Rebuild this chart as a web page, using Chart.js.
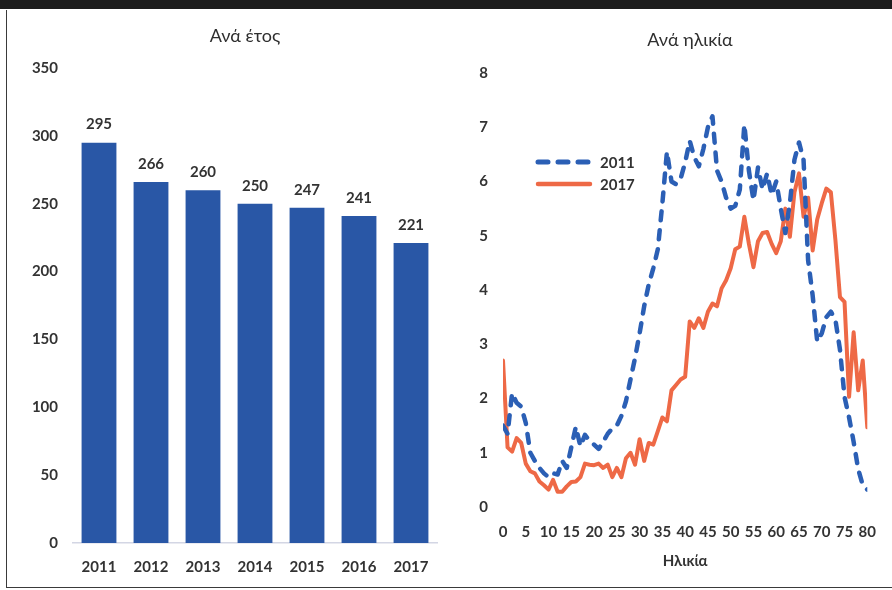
<!DOCTYPE html>
<html lang="el">
<head>
<meta charset="utf-8">
<title>Ανά έτος / Ανά ηλικία</title>
<script src="https://cdn.jsdelivr.net/npm/chart.js@4.4.1/dist/chart.umd.min.js"></script>
<style>
  html, body { margin: 0; padding: 0; background: #ffffff; }
  body { width: 892px; height: 590px; position: relative; overflow: hidden;
         font-family: Lato, "Noto Sans", sans-serif; }
  #topbar { position: absolute; left: 0; top: 0; width: 892px; height: 9px; background: #1c1c1c; }
  #frame { position: absolute; left: 6px; top: 10px; width: 920px; height: 577px;
           border-left: 1.5px solid #3a3a3a; border-bottom: 1.5px solid #3a3a3a; }
  .ptitle { position: absolute; font-size: 18px; line-height: 20px; color: #2f2f2f;
            white-space: nowrap; transform: translateX(-50%); }
  #yearChart { position: absolute; left: 0; top: 0; }
  #ageChart { position: absolute; left: 445px; top: 0; }
</style>
</head>
<body>
<div id="topbar"></div>
<div id="frame"></div>
<canvas id="yearChart" width="445" height="590"></canvas>
<canvas id="ageChart" width="447" height="590"></canvas>
<div class="ptitle" style="left:245px; top:25px;">Ανά έτος</div>
<div class="ptitle" style="left:690px; top:29px;">Ανά ηλικία</div>

<script>
// Yearly totals
const years = ['2011', '2012', '2013', '2014', '2015', '2016', '2017'];
const totals = [295, 266, 260, 250, 247, 241, 221];

// Distribution by age (ages 0–80)
const ages = [
   0,  1,  2,  3,  4,  5,  6,  7,  8,  9,
  10, 11, 12, 13, 14, 15, 16, 17, 18, 19,
  20, 21, 22, 23, 24, 25, 26, 27, 28, 29,
  30, 31, 32, 33, 34, 35, 36, 37, 38, 39,
  40, 41, 42, 43, 44, 45, 46, 47, 48, 49,
  50, 51, 52, 53, 54, 55, 56, 57, 58, 59,
  60, 61, 62, 63, 64, 65, 66, 67, 68, 69,
  70, 71, 72, 73, 74, 75, 76, 77, 78, 79,
  80
];
const series2011 = [
  1.50, 1.35, 2.10, 1.92, 1.85, 1.55, 1.00, 0.85, 0.72, 0.62,
  0.55, 0.62, 0.60, 0.85, 0.72, 1.10, 1.48, 1.12, 1.33, 1.22,
  1.15, 1.07, 1.20, 1.35, 1.45, 1.50, 1.68, 1.95, 2.35, 2.75,
  3.20, 3.70, 4.10, 4.40, 4.75, 5.60, 6.55, 6.00, 5.95, 6.05,
  6.35, 6.75, 6.45, 6.28, 6.60, 7.00, 7.20, 6.20, 6.00, 5.70,
  5.50, 5.55, 5.85, 7.05, 6.20, 5.65, 6.26, 5.85, 6.15, 5.75,
  6.00, 5.50, 5.05, 5.60, 6.40, 6.72, 6.40, 4.55, 3.90, 3.05,
  3.20, 3.50, 3.60, 3.45, 2.90, 2.03, 1.65, 1.20, 0.70, 0.40,
  0.32
];
const series2017 = [
  2.70, 1.10, 1.02, 1.27, 1.18, 0.80, 0.66, 0.62, 0.47, 0.40,
  0.32, 0.50, 0.28, 0.28, 0.38, 0.46, 0.47, 0.55, 0.80, 0.78,
  0.77, 0.80, 0.72, 0.78, 0.55, 0.72, 0.55, 0.90, 1.00, 0.78,
  1.25, 0.85, 1.18, 1.15, 1.40, 1.65, 1.58, 2.15, 2.25, 2.35,
  2.40, 3.42, 3.30, 3.48, 3.30, 3.60, 3.75, 3.70, 4.03, 4.18,
  4.40, 4.75, 4.80, 5.35, 4.85, 4.42, 4.90, 5.05, 5.07, 4.85,
  4.68, 4.90, 5.50, 4.98, 5.80, 6.15, 5.35, 5.70, 4.73, 5.30,
  5.60, 5.87, 5.80, 4.92, 3.87, 3.78, 2.03, 3.22, 2.15, 2.70,
  1.47
];

const FONT_FAMILY = 'Lato, "Noto Sans", sans-serif';
const TEXT_COLOR = '#333333';
const boldFont = { family: FONT_FAMILY, size: 15, weight: 'bold' };

// Value printed above every bar, taken from the bar's own data point
const barValueLabels = {
  id: 'barValueLabels',
  afterDatasetsDraw(chart) {
    const { ctx } = chart;
    const meta = chart.getDatasetMeta(0);
    const values = chart.data.datasets[0].data;
    ctx.save();
    ctx.font = 'bold 15px ' + FONT_FAMILY;
    ctx.fillStyle = TEXT_COLOR;
    ctx.textAlign = 'center';
    ctx.textBaseline = 'middle';
    meta.data.forEach((bar, i) => {
      ctx.fillText(String(values[i]), bar.x, bar.y - 18);
    });
    ctx.restore();
  }
};

// Legend drawn inside the plot area, upper left
const insideLegend = {
  id: 'insideLegend',
  afterDatasetsDraw(chart) {
    const { ctx, chartArea } = chart;
    chart.data.datasets.forEach((ds, i) => {
      const y = chartArea.top + 89 + i * 22;
      const x0 = chartArea.left + 35;
      ctx.save();
      ctx.strokeStyle = ds.borderColor;
      ctx.lineWidth = ds.borderWidth + 0.5;
      ctx.lineCap = ds.borderCapStyle || 'butt';
      ctx.setLineDash(ds.borderDash ? [10, 10] : []);
      ctx.beginPath();
      ctx.moveTo(x0, y);
      ctx.lineTo(x0 + 52, y);
      ctx.stroke();
      ctx.setLineDash([]);
      ctx.font = 'bold 15px ' + FONT_FAMILY;
      ctx.fillStyle = TEXT_COLOR;
      ctx.textAlign = 'left';
      ctx.textBaseline = 'middle';
      ctx.fillText(ds.label, x0 + 62, y + 1);
      ctx.restore();
    });
  }
};

new Chart(document.getElementById('yearChart'), {
  type: 'bar',
  data: {
    labels: years,
    datasets: [{
      data: totals,
      backgroundColor: '#2957A6',
      borderWidth: 0,
      categoryPercentage: 1.0,
      barPercentage: 0.67
    }]
  },
  options: {
    responsive: false,
    animation: false,
    events: [],
    layout: { padding: { left: 13, right: 8, top: 68, bottom: 7 } },
    plugins: { legend: { display: false }, tooltip: { enabled: false } },
    scales: {
      x: {
        grid: { display: false, drawTicks: false },
        border: { display: true, color: '#d3d6e4', width: 1.5 },
        ticks: { font: boldFont, color: TEXT_COLOR, padding: 15, maxRotation: 0 },
        afterFit(scale) { scale.height = 40; }
      },
      y: {
        min: 0, max: 350,
        grid: { display: false, drawTicks: false },
        border: { display: false },
        ticks: { stepSize: 50, font: boldFont, color: TEXT_COLOR, padding: 15 },
        afterFit(scale) { scale.width = 60; }
      }
    }
  },
  plugins: [barValueLabels]
});

new Chart(document.getElementById('ageChart'), {
  type: 'line',
  data: {
    datasets: [
      {
        label: '2011',
        data: ages.map((a, i) => ({ x: a, y: series2011[i] })),
        borderColor: '#2B5FB5',
        borderWidth: 4.5,
        borderDash: [9, 10],
        borderCapStyle: 'round',
        borderJoinStyle: 'round',
        pointRadius: 0,
        tension: 0,
        fill: false
      },
      {
        label: '2017',
        data: ages.map((a, i) => ({ x: a, y: series2017[i] })),
        borderColor: '#EE6946',
        borderWidth: 4,
        borderCapStyle: 'round',
        borderJoinStyle: 'round',
        pointRadius: 0,
        tension: 0,
        fill: false
      }
    ]
  },
  options: {
    responsive: false,
    animation: false,
    events: [],
    layout: { padding: { left: 13, right: 16, top: 73, bottom: 13 } },
    plugins: { legend: { display: false }, tooltip: { enabled: false } },
    scales: {
      x: {
        type: 'linear',
        min: 0, max: 80,
        grid: { display: false, drawTicks: false },
        border: { display: false },
        ticks: { stepSize: 5, font: boldFont, color: TEXT_COLOR, padding: 16,
                 maxRotation: 0, minRotation: 0, autoSkip: false },
        title: { display: true, text: 'Ηλικία', font: boldFont, color: TEXT_COLOR,
                 padding: { top: 0, bottom: 7 } },
        afterFit(scale) { scale.height = 70; }
      },
      y: {
        min: 0, max: 8,
        grid: { display: false, drawTicks: false },
        border: { display: false },
        ticks: { stepSize: 1, font: boldFont, color: TEXT_COLOR, padding: 15 },
        afterFit(scale) { scale.width = 45; }
      }
    }
  },
  plugins: [insideLegend]
});
</script>
</body>
</html>
